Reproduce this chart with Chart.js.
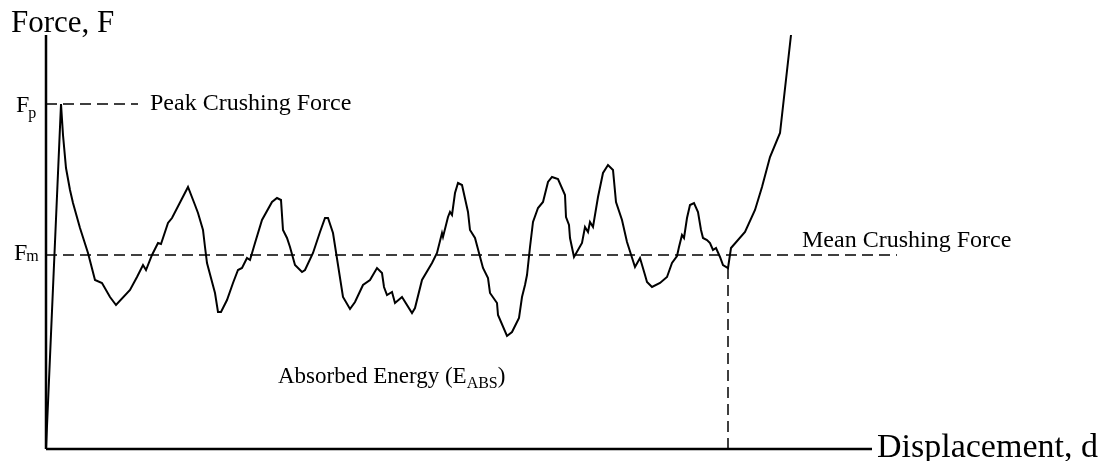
<!DOCTYPE html>
<html>
<head>
<meta charset="utf-8">
<title>Force - Displacement</title>
<script src="https://cdn.jsdelivr.net/npm/chart.js@4.4.1/dist/chart.umd.min.js"></script>
<style>
  html, body { margin: 0; padding: 0; background: #fff; }
  #wrap { width: 1106px; height: 461px; position: relative; }
</style>
</head>
<body>
<div id="wrap"><canvas id="crushChart"></canvas></div>
<script>
// Đường cong lực - chuyển vị (mm, kN)
const displacement = [
  0, 1.5, 1.7, 2.0, 2.4, 2.7, 3.4, 4.2, 4.9, 5.6, 6.4, 7.0, 8.4, 9.1, 9.7, 10.0, 10.6, 11.2, 11.5,
  12.2, 12.6, 14.2, 14.9, 15.2, 15.7, 15.9, 16.1, 16.9, 17.2, 17.5, 18.1, 18.7, 19.2,
  19.6, 20.1, 20.4, 20.9, 21.6, 22.6, 23.1, 23.5, 23.7, 24.1, 24.4, 24.9, 25.6, 25.9,
  26.7, 27.4, 27.9, 28.2, 28.7, 29.7, 30.4, 30.9, 31.7, 32.4, 33.1, 33.6, 33.8, 34.1,
  34.6, 34.9, 35.6, 36.6, 36.9, 37.6, 38.6, 39.1, 39.6, 39.7, 40.2, 40.4, 40.6, 40.9,
  41.2, 41.6, 42.2, 42.4, 42.9, 43.7, 44.2, 44.4, 45.1, 45.2, 46.1, 46.6, 47.3, 47.6,
  47.9, 48.1, 48.4, 48.7, 49.2, 49.7, 50.2, 50.6, 51.2, 51.9, 52.0, 52.3, 52.4, 52.8,
  53.6, 53.9, 54.2, 54.4, 54.7, 55.2, 55.7, 56.2, 56.7, 57.0, 57.6, 58.1, 58.9, 59.4,
  59.9, 60.1, 60.6, 61.4, 62.1, 62.6, 63.1, 63.3, 63.6, 63.8, 64.1, 64.4, 64.8, 65.2,
  65.5, 65.7, 66.1, 66.4, 66.7, 67.0, 67.4, 67.7, 68.2, 68.5, 69.9, 70.9, 71.6, 72.4,
  73.4, 74.5
];
const force = [
  0, 34.5, 31.4, 28.1, 25.9, 24.6, 22.1, 19.6, 16.9, 16.6, 15.2, 14.4, 15.9, 17.2, 18.4, 17.9, 19.4, 20.6, 20.5,
  22.6, 23.1, 26.2, 24.4, 23.6, 21.9, 20.2, 18.6, 15.6, 13.7, 13.7, 14.9, 16.6, 17.9,
  18.1, 19.1, 18.9, 20.6, 22.9, 24.7, 25.1, 24.9, 21.9, 21.1, 20.2, 18.4, 17.7, 17.9,
  19.6, 21.7, 23.1, 23.1, 21.6, 15.2, 14.0, 14.7, 16.4, 16.9, 18.1, 17.6, 16.2, 15.4,
  15.7, 14.6, 15.2, 13.6, 14.1, 16.9, 18.6, 19.6, 21.6, 21.2, 23.2, 23.7, 23.4, 25.6,
  26.6, 26.4, 23.7, 21.9, 21.1, 18.1, 17.1, 15.6, 14.6, 13.4, 11.3, 11.7, 13.1, 15.2,
  16.4, 17.4, 20.2, 22.7, 24.1, 24.7, 26.7, 27.2, 27.0, 25.4, 23.2, 22.4, 21.1, 19.2,
  20.6, 22.2, 21.7, 22.7, 22.2, 25.2, 27.6, 28.4, 27.9, 24.7, 22.9, 20.7, 18.2, 19.1,
  17.4, 16.7, 16.2, 16.6, 17.2, 18.6, 19.3, 20.2, 21.4, 21.1, 23.1, 24.4, 24.6, 23.7,
  21.9, 21.1, 20.9, 20.6, 19.9, 20.1, 19.2, 18.4, 18.1, 20.1, 21.7, 23.9, 26.2, 29.2,
  31.6, 41.4
];

// Các mốc đặc trưng
const peakForce = 34.5;       // Fp
const meanForce = 19.4;       // Fm
const crushEnd = 68.2;        // chuyển vị kết thúc nghiền
const axisMaxX = 82.6;
const axisMaxY = 41.4;
const peakLineEnd = 9.2;
const meanLineEnd = 85.1;

document.addEventListener('DOMContentLoaded', function() {
  const curve = displacement.map((d, i) => ({ x: d, y: force[i] }));
  const serif = '"Liberation Serif", "Times New Roman", serif';
  const dash = [11, 6];

  // Hàm vẽ các nhãn chữ
  const labelPlugin = {
    id: 'labelPlugin',
    afterDraw(chart) {
      const ctx = chart.ctx;
      const xs = chart.scales.x;
      const ys = chart.scales.y;
      const px = v => xs.getPixelForValue(v);
      const py = v => ys.getPixelForValue(v);

      function text(str, x, y, size) {
        ctx.font = size + 'px ' + serif;
        ctx.fillText(str, x, y);
        return x + ctx.measureText(str).width;
      }

      ctx.save();
      ctx.fillStyle = '#000';
      ctx.textBaseline = 'alphabetic';
      ctx.textAlign = 'left';

      text('Force, F', px(-3.5), py(41.7), 31);
      text('Displacement, d', px(83.1), py(-0.8), 34);
      text('Peak Crushing Force', px(10.4), py(33.9), 24);
      text('Mean Crushing Force', px(75.6), py(20.2), 24);

      // Fp
      let e = text('F', px(-3.0), py(33.7), 24);
      text('p', e - 1, py(33.1), 16);
      // Fm
      e = text('F', px(-3.2), py(18.9), 24);
      text('m', e - 1, py(18.8), 16);

      // Absorbed Energy (E_ABS)
      e = text('Absorbed Energy (E', px(23.2), py(6.6), 23);
      e = text('ABS', e, py(6.1), 16);
      text(')', e, py(6.6), 23);

      ctx.restore();
    }
  };

  new Chart(document.getElementById('crushChart'), {
    type: 'line',
    data: {
      datasets: [
        {
          label: 'Force',
          data: curve,
          borderColor: '#000',
          borderWidth: 2,
          pointRadius: 0,
          tension: 0
        },
        {
          label: 'y axis',
          data: [{ x: 0, y: 0 }, { x: 0, y: axisMaxY }],
          borderColor: '#000',
          borderWidth: 2.5,
          pointRadius: 0
        },
        {
          label: 'x axis',
          data: [{ x: 0, y: 0 }, { x: axisMaxX, y: 0 }],
          borderColor: '#000',
          borderWidth: 2.5,
          pointRadius: 0
        },
        {
          label: 'Peak',
          data: [{ x: 0, y: peakForce }, { x: peakLineEnd, y: peakForce }],
          borderColor: '#000',
          borderWidth: 1.5,
          borderDash: dash,
          pointRadius: 0
        },
        {
          label: 'Mean',
          data: [{ x: 0, y: meanForce }, { x: meanLineEnd, y: meanForce }],
          borderColor: '#000',
          borderWidth: 1.5,
          borderDash: dash,
          pointRadius: 0
        },
        {
          label: 'End',
          data: [{ x: crushEnd, y: 0 }, { x: crushEnd, y: 18.1 }],
          borderColor: '#000',
          borderWidth: 1.5,
          borderDash: dash,
          pointRadius: 0
        }
      ]
    },
    options: {
      responsive: true,
      maintainAspectRatio: false,
      animation: false,
      layout: { padding: 0 },
      plugins: {
        legend: { display: false },
        tooltip: { enabled: false }
      },
      scales: {
        x: { type: 'linear', min: -4.6, max: 106, display: false },
        y: { type: 'linear', min: -1.2, max: 44.9, display: false }
      }
    },
    plugins: [labelPlugin]
  });
});
</script>
</body>
</html>
